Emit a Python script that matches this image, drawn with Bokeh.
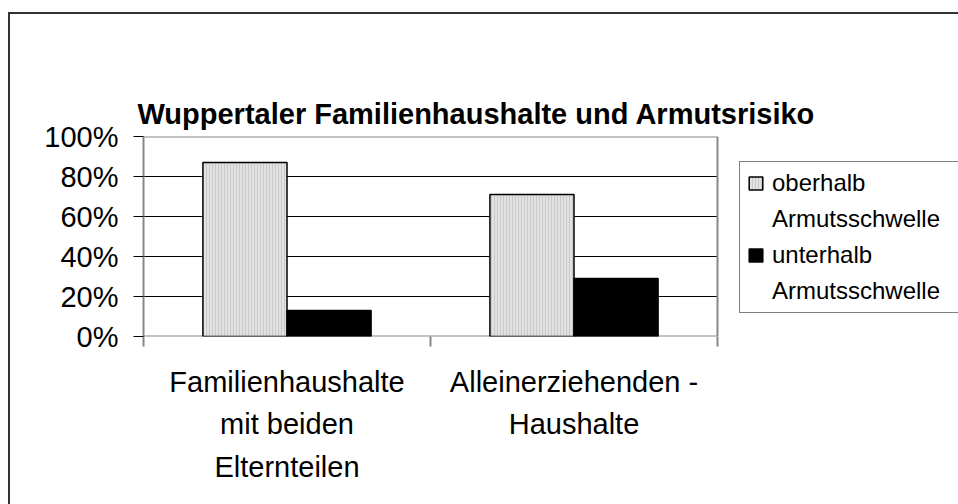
from bokeh.plotting import figure
from bokeh.models import (ColumnDataSource, FixedTicker, NumeralTickFormatter, Range1d,
                          Legend, LegendItem, LinearAxis)
from bokeh.transform import dodge
from bokeh.embed import file_html
from bokeh.resources import INLINE

# ---- data ----
categories = ["Familienhaushalte\nmit beiden\nElternteilen", "Alleinerziehenden -\nHaushalte"]
oberhalb = [0.87, 0.71]
unterhalb = [0.13, 0.29]
legend_lines = [["oberhalb", "Armutsschwelle"], ["unterhalb", "Armutsschwelle"]]
y_ticks = [0, 0.2, 0.4, 0.6, 0.8, 1.0]
title_text = "Wuppertaler Familienhaushalte und Armutsrisiko"

n_cat = len(categories)
xpos = [i + 0.5 for i in range(n_cat)]
src = ColumnDataSource(dict(x=xpos, ob=oberhalb, un=unterhalb))

FONT = "Liberation Sans"
GRAY = "#888888"

# frame: 574 px holds the categories, the rest of the frame to the right holds the legend
CANVAS_W, CANVAS_H = 958, 504
LEFT, TOP, BOTTOM = 143, 136, 168
FRAME_W = CANVAS_W - LEFT
CAT_W = 574

p = figure(width=CANVAS_W, height=CANVAS_H, output_backend="svg", toolbar_location=None,
           x_range=Range1d(0, n_cat * FRAME_W / CAT_W), y_range=Range1d(0, 1),
           min_border_left=LEFT, min_border_right=0, min_border_top=TOP,
           min_border_bottom=BOTTOM, title=title_text)
# outer chart frame (left and top edges) painted as the page background
p.styles = {"background": ("linear-gradient(#333333,#333333) 8px 12px / 2px 100% no-repeat, "
                           "linear-gradient(#333333,#333333) 8px 12px / 100% 2px no-repeat, white")}

p.background_fill_color = "white"
p.border_fill_color = None
p.outline_line_color = None
p.xgrid.visible = False
p.ygrid.visible = False

# the real bottom axis (kept before any extra axis is added)
xa = [a for a in p.below if isinstance(a, LinearAxis)][0]
ya = [a for a in p.left if isinstance(a, LinearAxis)][0]

# title (outermost) with an empty spacer axis between title and plot frame
p.title.align = "left"
p.title.vertical_align = "top"
p.title.text_font = FONT
p.title.text_font_size = "29px"
p.title.text_font_style = "bold"
p.title.text_color = "black"
p.title.offset = -6
p.title.standoff = 10
spacer = LinearAxis(ticker=FixedTicker(ticks=[]), axis_line_color=None,
                    major_tick_line_color=None, minor_tick_line_color=None,
                    major_tick_out=61, major_tick_in=0, minor_tick_out=0, minor_tick_in=0,
                    major_label_standoff=0, major_label_text_color=None)
p.add_layout(spacer, "above")

# plot-area decorations: grid lines, top/right border, baseline
grid_y = y_ticks[1:-1]
p.segment(x0=[0] * len(grid_y), x1=[n_cat] * len(grid_y), y0=grid_y, y1=grid_y,
          line_color="black", line_width=1)
p.segment(x0=[0, n_cat], x1=[n_cat, n_cat], y0=[y_ticks[-1], 0], y1=[y_ticks[-1], y_ticks[-1]],
          line_color=GRAY, line_width=2)
p.segment(x0=[0], x1=[n_cat], y0=[0], y1=[0], line_color=GRAY, line_width=2)

bw = 0.293
r1 = p.vbar(x=dodge("x", -bw / 2, range=p.x_range), top="ob", width=bw, source=src,
            fill_color="#e2e2e2", line_color="black", line_width=1.5,
            hatch_pattern="vertical_line", hatch_scale=3, hatch_color="#c8c8c8", hatch_weight=1)
r2 = p.vbar(x=dodge("x", bw / 2, range=p.x_range), top="un", width=bw, source=src,
            fill_color="black", line_color="black", line_width=1.5)
# invisible helper renderer for the second line of each legend entry
r_blank = p.vbar(x="x", top="un", width=0.01, source=src, fill_alpha=0, line_alpha=0)

# y axis
ya.ticker = FixedTicker(ticks=y_ticks)
ya.formatter = NumeralTickFormatter(format="0%")
ya.axis_line_color = GRAY
ya.axis_line_width = 2
ya.major_tick_line_color = "black"
ya.major_tick_line_width = 1
ya.major_tick_out = 10
ya.major_tick_in = 0
ya.minor_tick_line_color = None
ya.major_label_standoff = 15
ya.major_label_text_font = FONT
ya.major_label_text_font_size = "29px"
ya.major_label_text_color = "black"

# x axis
xa.ticker = FixedTicker(ticks=xpos, minor_ticks=list(range(n_cat + 1)))
xa.major_label_overrides = {x: c for x, c in zip(xpos, categories)}
xa.axis_line_color = None
xa.major_tick_line_color = None
xa.major_tick_out = 0
xa.major_tick_in = 0
xa.minor_tick_line_color = GRAY
xa.minor_tick_line_width = 2
xa.minor_tick_out = 10
xa.minor_tick_in = 0
xa.major_label_standoff = 19
xa.major_label_text_font = FONT
xa.major_label_text_font_size = "29px"
xa.major_label_text_color = "black"
xa.major_label_text_line_height = 1.33

legend = Legend(items=[LegendItem(label=legend_lines[0][0], renderers=[r1]),
                       LegendItem(label=legend_lines[0][1], renderers=[r_blank]),
                       LegendItem(label=legend_lines[1][0], renderers=[r2]),
                       LegendItem(label=legend_lines[1][1], renderers=[r_blank])],
                location=(596, 23))
legend.label_text_font = FONT
legend.label_text_font_size = "24px"
legend.label_text_color = "black"
legend.label_height = 28
legend.label_width = 200
legend.glyph_width = 17
legend.glyph_height = 16
legend.label_standoff = 8
legend.spacing = 8
legend.padding = 7
legend.margin = 0
legend.border_line_color = "black"
legend.border_line_width = 1
legend.background_fill_color = "white"
legend.background_fill_alpha = 1
p.add_layout(legend, "center")

open("out.html", "w").write(file_html(p, INLINE))
